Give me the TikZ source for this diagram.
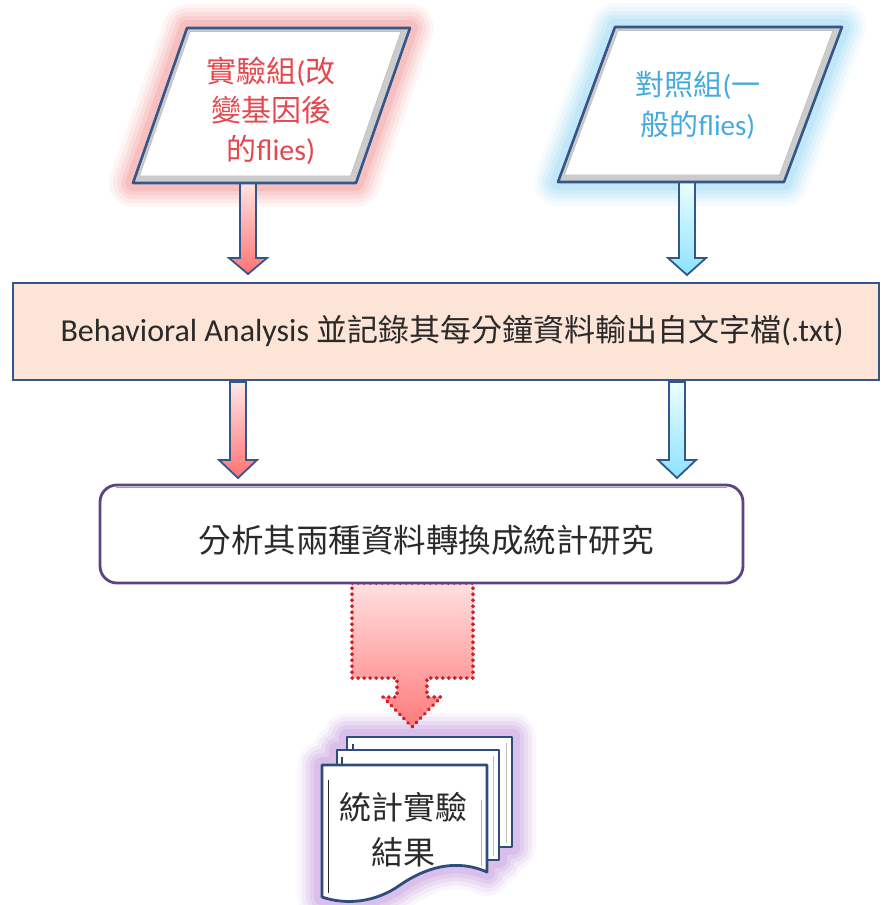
\documentclass[tikz,border=0pt]{standalone}
\usepackage{fontspec}
\setmainfont{Carlito}
\newfontfamily\cjk{Noto Sans CJK TC}
\definecolor{navy}{HTML}{34568A}
\definecolor{glowred}{HTML}{F08C8C}
\definecolor{glowblue}{HTML}{8FD3F2}
\definecolor{glowpurple}{HTML}{B98AD6}
\definecolor{peach}{HTML}{FCE4D6}
\definecolor{txtred}{HTML}{E5484F}
\definecolor{txtblue}{HTML}{45AADD}
\definecolor{txtdark}{HTML}{2A2A2A}
\definecolor{boxpurple}{HTML}{5E4384}
\definecolor{dotred}{HTML}{D01F2A}
\tikzset{
  shapeborder/.style={draw=navy,line width=2.6pt,line join=round},
  redarrow/.style={draw=navy,line width=1.8pt,line join=miter,top color=red!10,bottom color=red!55!white},
  bluearrow/.style={draw=navy,line width=1.8pt,line join=miter,top color=cyan!8,bottom color=blue!25!cyan!45!white},
  pagestyle/.style={draw=navy!90!black,line width=2.8pt,fill=white,line join=round},
  txt/.style={inner sep=0pt,align=center,text=txtdark},
}
\newcommand\blockarrow[5]{%
  \draw[#5] (#1-8,#2) -- (#1-8,#3) -- (#1-19,#3) -- (#1,#4) -- (#1+19,#3) -- (#1+8,#3) -- (#1+8,#2) -- cycle;}
\begin{document}
\begin{tikzpicture}[x=1pt,y=-1pt]
\useasboundingbox (0,0) rectangle (881,905);
% ---------- glows
\foreach \w/\o in {48/0.08,40/0.11,32/0.14,24/0.17,16/0.22}{
  \draw[glowred,line width=\w pt,opacity=\o,line join=round] (187,28) -- (410,28) -- (356,183) -- (133,183) -- cycle;
  \draw[glowblue,line width=\w pt,opacity=\o,line join=round] (615,27) -- (842,27) -- (784,182) -- (558,182) -- cycle;
  \draw[glowpurple,line width=\w pt,opacity=\o,line join=round] (322,765) -- (337,765) -- (337,750) -- (347,750) -- (347,737) -- (512,737) -- (512,847) -- (499,847) -- (499,860) -- (487,860) -- (487,872)
     .. controls (455,858) and (425,868) .. (400,885) .. controls (375,903) and (345,905) .. (322,897) -- cycle;
}
% ---------- arrows (first row)
\blockarrow{248}{181}{258}{274}{redarrow}
\blockarrow{687}{180}{258}{275}{bluearrow}
% ---------- left parallelogram
\fill[gray!40] (187,28) -- (410,28) -- (356,183) -- (133,183) -- cycle;
\filldraw[fill=white,draw=gray!50,line width=0.7pt] (190,31.5) -- (401,31.5) -- (350.5,176) -- (139.5,176) -- cycle;
\draw[shapeborder] (187,28) -- (410,28) -- (356,183) -- (133,183) -- cycle;
\node[txt,text=txtred,font=\fontsize{30}{39}\selectfont] (exp) at (271,111)
  {{\cjk 實驗組}({\cjk 改}\\{\cjk 變基因後}\\{\cjk 的}flies)};
% ---------- right parallelogram
\fill[gray!40] (615,27) -- (842,27) -- (784,182) -- (558,182) -- cycle;
\filldraw[fill=white,draw=gray!50,line width=0.7pt] (618,30.5) -- (833,30.5) -- (779.5,175) -- (564.5,175) -- cycle;
\draw[shapeborder] (615,27) -- (842,27) -- (784,182) -- (558,182) -- cycle;
\node[txt,text=txtblue,font=\fontsize{29}{40}\selectfont] (ctrl) at (698,105)
  {{\cjk 對照組}({\cjk 一}\\{\cjk 般的}flies)};
% ---------- box 1
\draw[fill=peach,draw=navy,line width=2.6pt] (13,283) rectangle (879,380);
\node[txt,font=\fontsize{32}{36}\selectfont] (rec) at (452,331)
  {Behavioral Analysis {\cjk\fontsize{31}{36}\selectfont 並記錄其每分鐘資料輸出自文字檔}(.txt)};
% ---------- arrows (second row)
\blockarrow{238}{382}{460}{478}{redarrow}
\blockarrow{677}{382}{460}{478}{bluearrow}
% ---------- dotted callout arrow
\draw[top color=red!12,bottom color=red!52!white,draw=dotred,line width=3.6pt,dash pattern=on 0.6pt off 5.4pt,line cap=round,line join=round]
  (352,583) -- (473,583) -- (473,678) -- (427,678) -- (427,697) -- (441,697) -- (412,727) -- (383,697) -- (397,697) -- (397,678) -- (352,678) -- cycle;
% ---------- box 2
\draw[fill=white,draw=boxpurple,line width=2.8pt,rounded corners=17pt] (100,485) rectangle (743,583);
\draw[draw=boxpurple!55!white,line width=0.8pt] (116,487.5) -- (727,487.5);
\node[txt,font=\cjk\fontsize{32.5}{36}\selectfont] (ana) at (426,540) {分析其兩種資料轉換成統計研究};
% ---------- document stack
\draw[pagestyle] (347,737) rectangle (512,847);
\draw[gray!50,line width=0.8pt] (506,743) -- (506,843);
\draw[navy!80!black,line width=1.6pt] (353,744) -- (353,753);
\draw[pagestyle] (337,750) rectangle (499,860);
\draw[gray!50,line width=0.8pt] (493,756) -- (493,856);
\draw[navy!80!black,line width=1.6pt] (342,757) -- (342,767);
\draw[pagestyle] (322,765) -- (487,765) -- (487,872)
  .. controls (455,858) and (425,868) .. (400,885) .. controls (375,903) and (345,905) .. (322,897) -- cycle;
\draw[gray!60,line width=0.8pt] (481,800) -- (481,866);
\draw[txtdark,line width=0.9pt] (328,780) -- (328,893);
\node[txt,font=\cjk\fontsize{32}{45}\selectfont] (res) at (403,830) {統計實驗\\結果};
\end{tikzpicture}
\end{document}
